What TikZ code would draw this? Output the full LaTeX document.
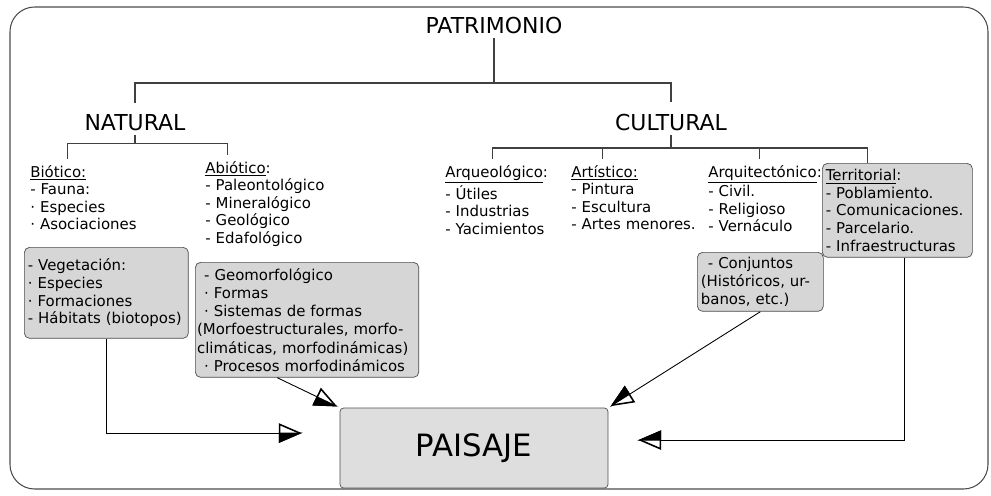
\documentclass[tikz,border=0pt]{standalone}
\usepackage{fontspec}
\setmainfont{DejaVu Sans}
\usepackage{tikz}
\usetikzlibrary{arrows.meta}

\definecolor{boxfill}{gray}{0.84}
\definecolor{boxline}{gray}{0.3}
\definecolor{paisajefill}{gray}{0.87}
\definecolor{lineclr}{gray}{0.25}

\begin{document}
\begin{tikzpicture}[x=0.02cm, y=-0.02cm,
    head/.style={inner sep=2.5pt, font=\fontsize{12.5}{15}\selectfont},
    grp/.style={anchor=base west, align=left, text width=3.2cm, inner xsep=0pt, inner ysep=3pt, font=\fontsize{8.5}{10}\selectfont},
    box/.style={anchor=north west, align=left, draw=boxline, fill=boxfill, rounded corners=3pt, inner xsep=2pt, inner ysep=2pt, font=\fontsize{8.5}{10}\selectfont},
    paisaje/.style={draw=boxline, fill=paisajefill, rounded corners=2pt, minimum width=5.36cm, minimum height=1.6cm, font=\fontsize{17.5}{20}\selectfont},
    tree/.style={draw=lineclr, line width=0.7pt},
    arr/.style={draw=black, line width=0.5pt, -{Triangle[open,length=13pt,width=11pt,line width=0.9pt,sep=-13pt]Triangle[right,length=13pt,width=11pt]}}]
    \useasboundingbox (0,0) rectangle (991,495);
    \draw[draw=gray!60!black, line width=0.6pt, rounded corners=14pt] (10,7) rectangle (988,489);

    \node at (494,25) [head] (Patrimonio) {PATRIMONIO};
    \node at (135,122.5) [head] (Natural) {NATURAL};
    \node at (671,122) [head] (Cultural) {CULTURAL};

    \node at (30,177) [grp] (Biotico) {\underline{Biótico:}\\- Fauna:\\· Especies\\· Asociaciones};
    \node at (205,173) [grp] (Abiotico) {\underline{Abiótico}:\\- Paleontológico\\- Mineralógico\\- Geológico\\- Edafológico};
    \node at (445,177) [grp] (Arqueologico) {\underline{Arqueológico}:\\- Útiles\\- Industrias\\- Yacimientos};
    \node at (571,177) [grp] (Artistico) {\underline{Artístico:}\\- Pintura\\- Escultura\\- Artes menores.};
    \node at (708,177) [grp] (Arquitectonico) {\underline{Arquitectónico}:\\- Civil.\\- Religioso\\- Vernáculo};
    \node at (822,163) [box, text width=2.86cm, minimum height=1.88cm] (Territorial) {\underline{Territorial}:\\- Poblamiento.\\-~Comunicaciones.\\- Parcelario.\\-~Infraestructuras};

    \node at (24,247) [box, text width=3.14cm, minimum height=1.82cm] (Vegetacion) {- Vegetación:\\· Especies\\· Formaciones\\-~Hábitats~(biotopos)};
    \node at (195,262) [box, inner xsep=1pt, text width=4.4cm, minimum height=2.3cm, font=\fontsize{8.5}{10.4}\selectfont] (Geomorfologico) {\hspace*{4pt}- Geomorfológico\\\hspace*{4pt}· Formas\\\hspace*{4pt}· Sistemas de formas\\(Morfoestructurales,~morfo-\\climáticas,~morfodinámicas)\\\hspace*{4pt}· Procesos morfodinámicos};
    \node at (697,252) [box, text width=2.38cm, minimum height=1.18cm] (Conjuntos) {\hspace*{4pt}- Conjuntos\\(Históricos,~ur-\\banos, etc.)};

    \node at (474,448) [paisaje] (Paisaje) {PAISAJE};

    \draw[tree] (Patrimonio.south) -- ++(0,45) -| ([yshift=4pt]Natural.north);
    \draw[tree] (Patrimonio.south) -- ++(0,45) -| ([yshift=4pt]Cultural.north);
    \draw[tree] (Natural.south) -- ++(0,8) -| ([xshift=21.5pt]Biotico.north west);
    \draw[tree] (Natural.south) -- ++(0,8) -| ([xshift=13pt]Abiotico.north west);
    \draw[tree] (Cultural.south) -- ++(0,13) -| ([xshift=27pt]Arqueologico.north west);
    \draw[tree] (Cultural.south) -- ++(0,13) -| ([xshift=18pt]Artistico.north west);
    \draw[tree] (Cultural.south) -- ++(0,13) -| ([xshift=29.5pt]Arquitectonico.north west);
    \draw[tree] (Cultural.south) -- ++(0,13) -| ([xshift=26pt]Territorial.north west);

    \draw[arr, shorten >=21pt] (Vegetacion.south) |- ([yshift=8.5pt]Paisaje.west);
    \draw[arr, shorten >=1pt] ([xshift=-17pt]Geomorfologico.south) -- (Paisaje.north west);
    \draw[arr, shorten >=1pt] (Conjuntos.south) -- (Paisaje.north east);
    \draw[arr, shorten >=16.5pt] ([xshift=4pt]Territorial.south) |- ([yshift=4.5pt]Paisaje.east);
\end{tikzpicture}
\end{document}
